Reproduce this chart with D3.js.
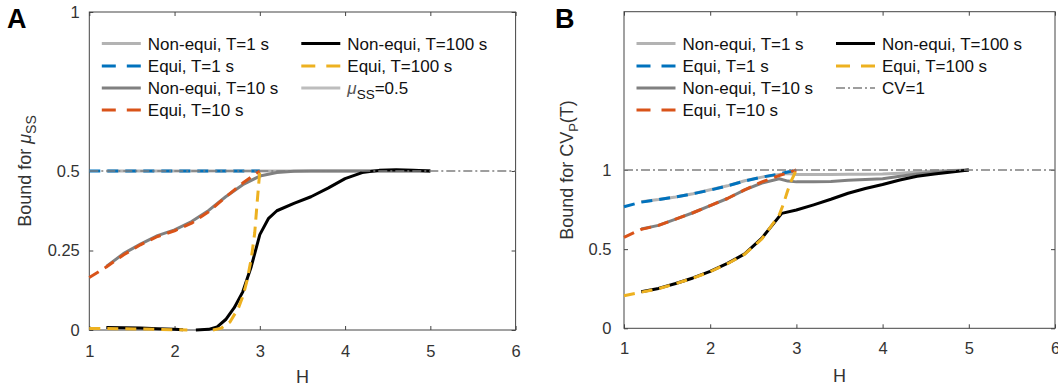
<!DOCTYPE html>
<html><head><meta charset="utf-8">
<script src="https://cdn.jsdelivr.net/npm/d3@7/dist/d3.min.js"></script>
<style>
body{margin:0;background:#fff;}
svg text{font-family:"Liberation Sans",Arial,sans-serif;}
</style></head><body>
<svg id="chart" width="1058" height="389"></svg>
<script>
// ---------- tick labels ----------
const xTicks = [1, 2, 3, 4, 5, 6];
const yTicksA = [0, 0.25, 0.5, 1];
const yTicksB = [0, 0.5, 1];

// ---------- legend labels ----------
const seriesLabels = ["Non-equi, T=1 s", "Equi, T=1 s", "Non-equi, T=10 s", "Equi, T=10 s", "Non-equi, T=100 s", "Equi, T=100 s"];

// ---------- Panel A : bound for mu_SS ----------
const A_nonEq1_H = [1.2, 1.6, 2.0, 2.4, 2.8, 3.2, 3.6, 4.0, 4.4, 4.8, 5.0];
const A_nonEq1_V = [0.5, 0.5, 0.5, 0.5, 0.5, 0.5, 0.5, 0.5, 0.5, 0.5, 0.5];
const A_eq1_H = [1.0, 1.5, 2.0, 2.5, 3.0];
const A_eq1_V = [0.5, 0.5, 0.5, 0.5, 0.5];
const A_nonEq10_H = [1.2, 1.4, 1.6, 1.8, 2.0, 2.2, 2.4, 2.6, 2.8, 3.0, 3.2, 3.4, 3.6, 3.8, 4.0, 4.5, 5.0];
const A_nonEq10_V = [0.2, 0.24, 0.27, 0.297, 0.315, 0.341, 0.376, 0.419, 0.457, 0.484, 0.495, 0.499, 0.5, 0.5, 0.5, 0.5, 0.5];
const A_eq10_H = [1.0, 1.2, 1.4, 1.6, 1.8, 2.0, 2.2, 2.4, 2.6, 2.8, 3.0];
const A_eq10_V = [0.165, 0.198, 0.236, 0.268, 0.294, 0.312, 0.336, 0.372, 0.418, 0.462, 0.5];
const A_nonEq100_H = [1.2, 1.4, 1.6, 1.8, 2.0, 2.1, 2.2, 2.25, 2.4, 2.5, 2.6, 2.7, 2.8, 2.9, 3.0, 3.1, 3.2, 3.4, 3.6, 3.8, 4.0, 4.2, 4.4, 4.6, 4.8, 5.0];
const A_nonEq100_V = [0.008, 0.007, 0.006, 0.004, 0.002, 0.001, null, 0, 0.002, 0.01, 0.033, 0.07, 0.12, 0.2, 0.3, 0.35, 0.375, 0.398, 0.419, 0.446, 0.476, 0.495, 0.502, 0.504, 0.502, 0.5];
const A_eq100_H = [1.0, 1.2, 1.4, 1.6, 1.8, 2.0, 2.15, 2.3, 2.45, 2.55, 2.65, 2.75, 2.8, 2.85, 2.9, 2.94, 2.97, 3.0];
const A_eq100_V = [0.005, 0.005, 0.004, 0.003, 0.002, 0.001, 0, null, 0, 0.006, 0.025, 0.07, 0.105, 0.155, 0.225, 0.305, 0.405, 0.5];
const A_ref_H = [1, 6];
const A_ref_V = [0.5, 0.5];

// ---------- Panel B : bound for CV_P(T) ----------
const B_nonEq1_H = [1.2, 1.4, 1.6, 1.8, 2.0, 2.2, 2.4, 2.6, 2.8, 2.9, 3.0, 3.2, 3.4, 3.6, 3.8, 4.0, 4.2, 4.4, 4.6, 4.8, 5.0];
const B_nonEq1_V = [0.8, 0.813, 0.83, 0.85, 0.875, 0.9, 0.932, 0.955, 0.972, 0.978, 0.972, 0.972, 0.972, 0.973, 0.973, 0.974, 0.98, 0.988, 0.993, 0.997, 1.0];
const B_eq1_H = [1.0, 1.2, 1.4, 1.6, 1.8, 2.0, 2.2, 2.4, 2.6, 2.8, 3.0];
const B_eq1_V = [0.768, 0.797, 0.813, 0.83, 0.85, 0.873, 0.9, 0.93, 0.955, 0.975, 1.0];
const B_nonEq10_H = [1.2, 1.4, 1.6, 1.8, 2.0, 2.2, 2.4, 2.6, 2.8, 2.9, 3.0, 3.2, 3.4, 3.6, 3.8, 4.0, 4.2, 4.4, 4.6, 4.8, 5.0];
const B_nonEq10_V = [0.627, 0.65, 0.69, 0.73, 0.775, 0.82, 0.875, 0.918, 0.945, 0.93, 0.925, 0.925, 0.928, 0.935, 0.94, 0.945, 0.96, 0.975, 0.985, 0.993, 1.0];
const B_eq10_H = [1.0, 1.2, 1.4, 1.6, 1.8, 2.0, 2.2, 2.4, 2.6, 2.8, 3.0];
const B_eq10_V = [0.575, 0.625, 0.65, 0.69, 0.73, 0.775, 0.82, 0.875, 0.925, 0.965, 1.0];
const B_nonEq100_H = [1.2, 1.4, 1.6, 1.8, 2.0, 2.2, 2.4, 2.6, 2.83, 3.0, 3.2, 3.4, 3.6, 3.8, 4.0, 4.2, 4.4, 4.6, 4.8, 5.0];
const B_nonEq100_V = [0.231, 0.252, 0.283, 0.318, 0.36, 0.41, 0.47, 0.57, 0.726, 0.747, 0.78, 0.815, 0.853, 0.883, 0.908, 0.937, 0.96, 0.975, 0.988, 1.0];
const B_eq100_H = [1.0, 1.2, 1.4, 1.6, 1.8, 2.0, 2.2, 2.4, 2.6, 2.8, 2.85, 2.89, 2.93, 2.965, 3.0];
const B_eq100_V = [0.206, 0.228, 0.25, 0.282, 0.317, 0.358, 0.408, 0.468, 0.565, 0.715, 0.785, 0.855, 0.92, 0.96, 1.0];
const B_ref_H = [1, 6];
const B_ref_V = [1, 1];

// ---------- styles ----------
const styles = [
  {color: "#b3b3b3", dash: null},
  {color: "#0072bd", dash: "dash"},
  {color: "#808080", dash: null},
  {color: "#d95319", dash: "dash"},
  {color: "#000000", dash: null},
  {color: "#edb120", dash: "dash"}
];
const PLOT_DASH = "11,7";
const LEG_DASH = "14,11";
const REF_DASH = "9,3,2,3";

const svg = d3.select("#chart");
const zip = (h, v) => h.map((x, i) => ({h: x, v: v[i]}));

function drawPanel(cfg) {
  const g = svg.append("g");
  const x = d3.scaleLinear().domain([1, 6]).range([cfg.x0, cfg.x1]);
  const y = d3.scaleLinear().domain(cfg.yDomain).range([cfg.y0, cfg.y1]);

  const styleAxis = sel => {
    sel.select(".domain").remove();
    sel.selectAll("line").attr("stroke", "#444").attr("stroke-width", 1);
    sel.selectAll("text").attr("font-size", 16.5).attr("fill", "#333")
      .attr("font-family", "'Liberation Sans', Arial, sans-serif");
  };
  g.append("g").attr("transform", `translate(0,${cfg.y0})`)
    .call(d3.axisBottom(x).tickValues(xTicks).tickFormat(d3.format("d")).tickSizeInner(-4).tickSizeOuter(0).tickPadding(cfg.xPad))
    .call(styleAxis);
  g.append("g").attr("transform", `translate(0,${cfg.y1})`)
    .call(d3.axisTop(x).tickValues(xTicks).tickFormat("").tickSizeInner(-4).tickSizeOuter(0))
    .call(styleAxis);
  g.append("g").attr("transform", `translate(${cfg.x0},0)`)
    .call(d3.axisLeft(y).tickValues(cfg.yTicks).tickFormat(d => String(d)).tickSizeInner(-4).tickSizeOuter(0).tickPadding(cfg.yPad))
    .call(styleAxis);
  g.append("g").attr("transform", `translate(${cfg.x1},0)`)
    .call(d3.axisRight(y).tickValues(cfg.yTicks).tickFormat("").tickSizeInner(-4).tickSizeOuter(0))
    .call(styleAxis);

  g.append("rect").attr("x", cfg.x0).attr("y", cfg.y1)
    .attr("width", cfg.x1 - cfg.x0).attr("height", cfg.y0 - cfg.y1)
    .attr("fill", "none").attr("stroke", "#444").attr("stroke-width", 1);

  const line = d3.line().defined(d => d.v !== null).x(d => x(d.h)).y(d => y(d.v));

  cfg.series.forEach((s, i) => {
    const st = styles[i];
    g.append("path").datum(zip(s[0], s[1]))
      .attr("d", line).attr("fill", "none")
      .attr("stroke", st.color).attr("stroke-width", 3)
      .attr("stroke-linejoin", "round")
      .attr("stroke-dasharray", st.dash ? PLOT_DASH : null);
  });
  // reference line
  g.append("path").datum(zip(cfg.ref[0], cfg.ref[1]))
    .attr("d", line).attr("fill", "none")
    .attr("stroke", "#7f7f7f").attr("stroke-width", 1.3)
    .attr("stroke-dasharray", REF_DASH);

  // legend
  const rows = [43.5, 66, 88, 110];
  const cols = [cfg.x0 + 12.5, cfg.x0 + 212];
  const entries = seriesLabels.map((l, i) => ({label: l, st: styles[i], kind: "s"}));
  entries.push({label: null, kind: cfg.refLegendKind});
  entries.forEach((e, i) => {
    const c = i < 4 ? 0 : 1;
    const r = i < 4 ? i : i - 4;
    const lx = cols[c], ly = rows[r];
    const ln = g.append("line").attr("x1", lx).attr("x2", lx + 39).attr("y1", ly).attr("y2", ly);
    if (e.kind === "s") {
      ln.attr("stroke", e.st.color).attr("stroke-width", 3)
        .attr("stroke-dasharray", e.st.dash ? LEG_DASH : null);
    } else if (e.kind === "solidgray") {
      ln.attr("stroke", "#bdbdbd").attr("stroke-width", 3);
    } else {
      ln.attr("stroke", "#7f7f7f").attr("stroke-width", 1.3).attr("stroke-dasharray", REF_DASH);
    }
    const t = g.append("text").attr("x", lx + 46).attr("y", ly + 6)
      .attr("font-size", 17).attr("fill", "#111");
    if (e.label) t.text(e.label);
    else cfg.refLabel(t);
  });

  // axis labels
  g.append("text").attr("x", (cfg.x0 + cfg.x1) / 2).attr("y", cfg.xLabelY)
    .attr("text-anchor", "middle").attr("font-size", 18).attr("fill", "#333").text("H");
  const yl = g.append("text")
    .attr("transform", `translate(${cfg.yLabelX},${(cfg.y0 + cfg.y1) / 2}) rotate(-90)`)
    .attr("text-anchor", "middle").attr("font-size", 18).attr("fill", "#333");
  cfg.yLabel(yl);

  g.append("text").attr("x", cfg.letterX).attr("y", 28)
    .attr("font-size", 27).attr("font-weight", "bold").attr("fill", "#000").text(cfg.letter);
}

drawPanel({
  letter: "A", letterX: 7,
  x0: 89.3, x1: 515.6, y0: 330, y1: 12, yDomain: [0, 1], yTicks: yTicksA,
  xPad: 15, yPad: 9.5, xLabelY: 383, yLabelX: 31,
  series: [[A_nonEq1_H, A_nonEq1_V], [A_eq1_H, A_eq1_V], [A_nonEq10_H, A_nonEq10_V],
           [A_eq10_H, A_eq10_V], [A_nonEq100_H, A_nonEq100_V], [A_eq100_H, A_eq100_V]],
  ref: [A_ref_H, A_ref_V],
  refLegendKind: "solidgray",
  refLabel: t => {
    t.append("tspan").attr("font-style", "italic").attr("fill", "#555").text("μ");
    t.append("tspan").attr("font-size", 13.5).attr("dy", 5).text("SS");
    t.append("tspan").attr("dy", -5).text("=0.5");
  },
  yLabel: t => {
    t.append("tspan").text("Bound for ");
    t.append("tspan").attr("font-style", "italic").text("μ");
    t.append("tspan").attr("font-size", 14).attr("dy", 5).text("SS");
  }
});

drawPanel({
  letter: "B", letterX: 555,
  x0: 624, x1: 1055, y0: 328.3, y1: 11.7, yDomain: [0, 2], yTicks: yTicksB,
  xPad: 13.5, yPad: 12.5, xLabelY: 381.5, yLabelX: 572.5,
  series: [[B_nonEq1_H, B_nonEq1_V], [B_eq1_H, B_eq1_V], [B_nonEq10_H, B_nonEq10_V],
           [B_eq10_H, B_eq10_V], [B_nonEq100_H, B_nonEq100_V], [B_eq100_H, B_eq100_V]],
  ref: [B_ref_H, B_ref_V],
  refLegendKind: "dashdot",
  refLabel: t => { t.text("CV=1"); },
  yLabel: t => {
    t.append("tspan").text("Bound for CV");
    t.append("tspan").attr("font-size", 13).attr("dy", 5).text("P");
    t.append("tspan").attr("dy", -5).text("(T)");
  }
});
</script>
</body></html>
